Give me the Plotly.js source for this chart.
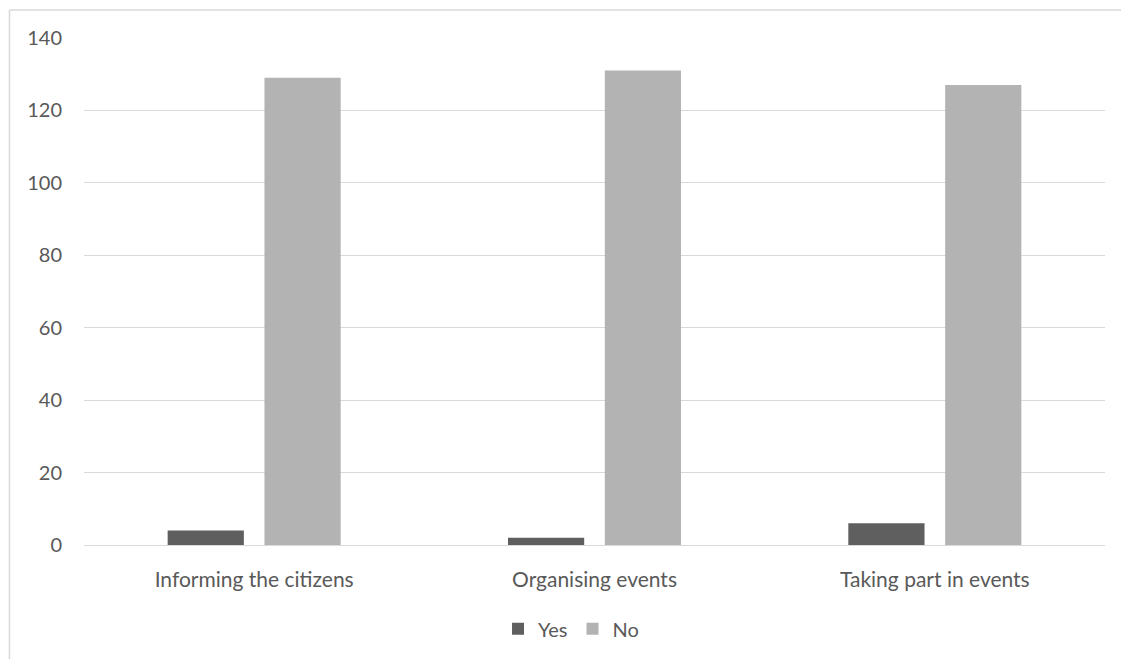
<!DOCTYPE html>
<html>
<head>
<meta charset="utf-8">
<script src="https://cdn.plot.ly/plotly-3.0.1.min.js"></script>
<style>
html,body{margin:0;padding:0;background:#fff;}
#chart{width:1121px;height:659px;}
</style>
</head>
<body>
<div id="chart"></div>
<script>
const categories = ["Informing the citizens", "Organising events", "Taking part in events"];
const yesValues = [4, 2, 6];
const noValues = [129, 131, 127];
const yTicks = [0, 20, 40, 60, 80, 100, 120, 140];

const font = {family: "Lato, Open Sans, sans-serif", size: 20, color: "#595959"};
const xFont = {family: "Lato, Open Sans, sans-serif", size: 21, color: "#595959"};

const data = [
  {type: "bar", name: "Yes", x: categories, y: yesValues, marker: {color: "#5f5f5f"}, hoverinfo: "skip"},
  {type: "bar", name: "No", x: categories, y: noValues, marker: {color: "#b3b3b3"}, hoverinfo: "skip"}
];

const layout = {
  width: 1121, height: 659,
  margin: {l: 84, r: 16, t: 37.5, b: 113},
  paper_bgcolor: "#fff", plot_bgcolor: "#fff",
  font: font,
  barmode: "group",
  bargap: 0.431,
  bargroupgap: 0.213,
  showlegend: true,
  legend: {orientation: "h", x: 0.477, xanchor: "center", y: -0.163, yanchor: "middle", font: font, itemwidth: 30, traceorder: "normal"},
  xaxis: {showgrid: false, zeroline: false, showline: false, ticks: "", tickfont: xFont, ticklabelstandoff: 20, fixedrange: true},
  yaxis: {range: [0, 140], tickvals: yTicks, showgrid: true, gridcolor: "#d9d9d9", gridwidth: 1, zeroline: true, zerolinecolor: "#d9d9d9", zerolinewidth: 1, showline: false, ticks: "", tickfont: font, ticklabelstandoff: 21, fixedrange: true},
  shapes: [
    {type: "line", xref: "paper", yref: "paper", x0: -0.073, x1: -0.073, y0: -0.3, y1: 1.055, line: {color: "#d9d9d9", width: 1.5}},
    {type: "line", xref: "paper", yref: "paper", x0: -0.073, x1: 1.1, y0: 1.055, y1: 1.055, line: {color: "#d9d9d9", width: 1.5}}
  ]
};

Plotly.newPlot("chart", data, layout, {displayModeBar: false, staticPlot: true});
</script>
</body>
</html>
